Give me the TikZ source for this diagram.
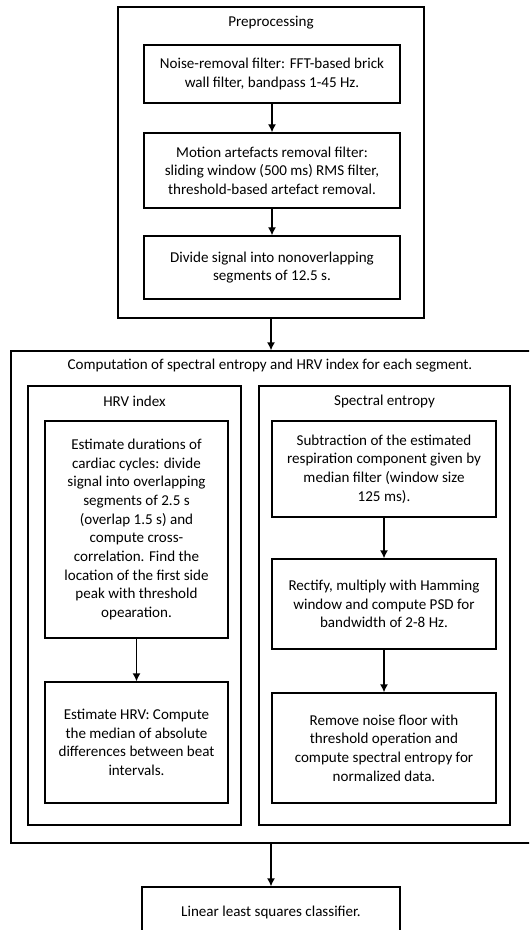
\documentclass[tikz,border=0pt]{standalone}
\usepackage{fontspec}
\setmainfont{Carlito}
\usetikzlibrary{arrows.meta}

\begin{document}
\begin{tikzpicture}[x=0.75pt, y=-0.75pt]
\tikzset{
    mybox/.style={rectangle, draw=black, line width=1pt, inner sep=0pt, align=center, font=\fontsize{11.3}{14}\selectfont},
    myframe/.style={rectangle, draw=black, line width=1pt, inner sep=0pt},
    mytitle/.style={inner sep=0pt, font=\fontsize{11.3}{14}\selectfont},
    myarrow/.style={-{Latex[length=6pt, width=6pt]}, line width=1pt}
}
\useasboundingbox (0,0) rectangle (529,930);
\clip (0,0) rectangle (529,930);

% outer frames
\node[myframe, minimum width=306*0.75pt, minimum height=311*0.75pt] (pre) at (271,162.5) {};
\node[mytitle] (pretitle) at (271,23) {Preprocessing};
\node[myframe, minimum width=526*0.75pt, minimum height=492*0.75pt] (comp) at (274,597) {};
\node[mytitle] (comptitle) at (270,366) {Computation of spectral entropy and HRV index for each segment.};
\node[myframe, minimum width=213*0.75pt, minimum height=439*0.75pt] (hrvframe) at (134.5,605.5) {};
\node[mytitle] (hrvtitle) at (134.5,401) {HRV index};
\node[myframe, minimum width=251*0.75pt, minimum height=439*0.75pt] (seframe) at (384.5,605.5) {};
\node[mytitle] (setitle) at (384.5,401) {Spectral entropy};

% preprocessing steps
\node[mybox, minimum width=256*0.75pt, minimum height=58*0.75pt] (noise) at (272,74)
    {Noise-removal filter: FFT-based brick\\wall filter, bandpass 1-45 Hz.};
\node[mybox, minimum width=256*0.75pt, minimum height=75*0.75pt] (motion) at (272,170.5)
    {Motion artefacts removal filter:\\sliding window (500 ms) RMS filter,\\threshold-based artefact removal.};
\node[mybox, minimum width=256*0.75pt, minimum height=63*0.75pt] (divide) at (272,267.5)
    {Divide signal into nonoverlapping\\segments of 12.5 s.};

% HRV index
\node[mybox, minimum width=183*0.75pt, minimum height=217*0.75pt] (cycles) at (136.5,529.5)
    {Estimate durations of\\cardiac cycles: divide\\signal into overlapping\\segments of 2.5 s\\(overlap 1.5 s) and\\compute cross-\\correlation. Find the\\location of the first side\\peak with threshold\\opearation.};
\node[mybox, minimum width=183*0.75pt, minimum height=121*0.75pt] (hrv) at (136.5,742.5)
    {Estimate HRV: Compute\\the median of absolute\\differences between beat\\intervals.};

% spectral entropy
\node[mybox, minimum width=224*0.75pt, minimum height=96*0.75pt] (resp) at (384,469)
    {Subtraction of the estimated\\respiration component given by\\median filter (window size\\125 ms).};
\node[mybox, minimum width=224*0.75pt, minimum height=90*0.75pt] (psd) at (384,604)
    {Rectify, multiply with Hamming\\window and compute PSD for\\bandwidth of 2-8 Hz.};
\node[mybox, minimum width=224*0.75pt, minimum height=110*0.75pt] (floor) at (384,748)
    {Remove noise floor with\\threshold operation and\\compute spectral entropy for\\normalized data.};

% classifier
\node[mybox, minimum width=258*0.75pt, minimum height=50*0.75pt] (classifier) at (271,912)
    {Linear least squares classifier.};

\draw[myarrow] (noise.south) -- (motion.north);
\draw[myarrow] (motion.south) -- (divide.north);
\draw[myarrow] (pre.south) -- (pre.south |- comp.north);
\draw[myarrow] (cycles.south) -- (hrv.north);
\draw[myarrow] (resp.south) -- (psd.north);
\draw[myarrow] (psd.south) -- (floor.north);
\draw[myarrow] (classifier.north |- comp.south) -- (classifier.north);
\end{tikzpicture}
\end{document}
